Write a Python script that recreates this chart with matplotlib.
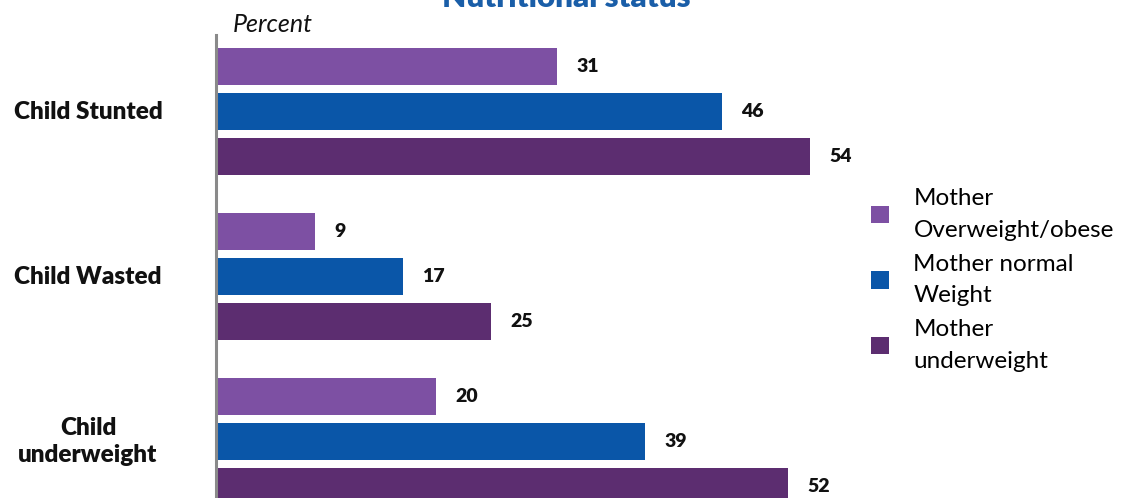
import matplotlib
matplotlib.use("Agg")
import matplotlib.pyplot as plt
import numpy as np

# data
categories = ["Child Stunted", "Child Wasted", "Child\nunderweight"]
series_names = ["Mother\nOverweight/obese", "Mother normal\nWeight", "Mother\nunderweight"]
overweight = [31, 9, 20]
normal = [46, 17, 39]
underweight = [54, 25, 52]
colors = ["#7d50a3", "#0a56a8", "#5c2d70"]

W, H = 1130, 498
fig = plt.figure(figsize=(W / 100, H / 100), dpi=100)
# axes from y=35px down to the bottom edge, zero line at x=216px
ax = fig.add_axes([216 / W, 0, (60 * 11.0) / W, 1 - 35 / H])

plt.rcParams['font.family'] = ['Lato', 'DejaVu Sans']

gap = 0.273   # distance between bars inside a group (group pitch = 1)
bh = 0.224
idx = np.arange(len(categories))
handles = []
for k, vals in enumerate([overweight, normal, underweight]):
    ypos = idx + (k - 1) * gap
    b = ax.barh(ypos, vals, height=bh, color=colors[k], label=series_names[k])
    handles.append(b)
    for y, v in zip(ypos, vals):
        ax.annotate(str(v), (v, y), xytext=(14, 0), textcoords="offset points",
                    va="center", ha="left", fontsize=14, fontweight="heavy",
                    family=["Lato", "DejaVu Sans"], color="#111111")

ax.set_xlim(0, 60)
ax.set_ylim(2.342, -0.464)
ax.set_xticks([])
ax.set_yticks([])
for s in ["top", "right", "bottom"]:
    ax.spines[s].set_visible(False)
ax.spines["left"].set_color("#8a8a8a")
ax.spines["left"].set_linewidth(2.2)

# category labels, centred left of the axis
for i, c in enumerate(categories):
    ax.annotate(c, (0, i), xycoords=("axes fraction", "data"),
                xytext=(88 - 216, 0), textcoords="offset pixels",
                ha="center", va="center", fontsize=17.5, fontweight="heavy",
                family=["Lato", "DejaVu Sans"], color="#111111", linespacing=1.3)

fig.text(233 / W, 1 - 24 / H, "Percent", fontsize=18, style="italic",
         va="center", ha="left", color="#111111")
fig.text(566 / W, 1 - 7 / H, "Nutritional status", fontsize=22.5, fontweight="heavy",
         va="baseline", ha="center", color="#1a5ea8")

leg = fig.legend(handles, series_names, loc="center left",
                 bbox_to_anchor=(849 / W, 1 - 280 / H), frameon=False,
                 fontsize=17.5, handlelength=0.75, handleheight=0.75,
                 handletextpad=1.0, labelspacing=0.55)
for t in leg.get_texts():
    t.set_linespacing(1.6)

fig.savefig("out.png", dpi=100)
